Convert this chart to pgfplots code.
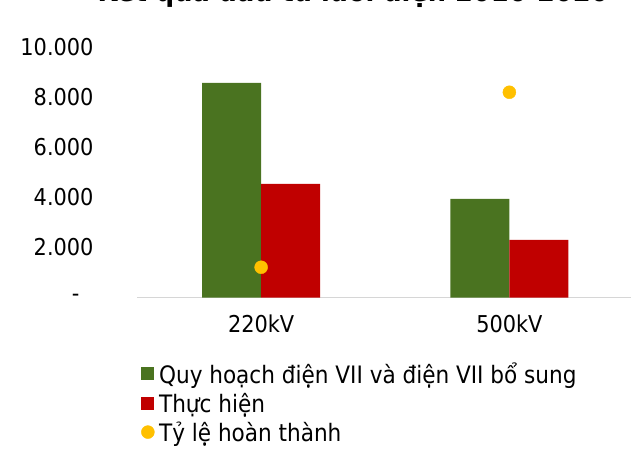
\documentclass[border=0pt]{standalone}
\usepackage{pgfplots}
\pgfplotsset{compat=1.18}
\usepackage{fontspec}
\setmainfont{DejaVu Sans Condensed}
\definecolor{cgreen}{HTML}{4A7320}
\definecolor{cred}{HTML}{C00000}
\definecolor{cyellow}{HTML}{FFC000}
\begin{document}
\begin{tikzpicture}
\begin{axis}[
  at={(137bp,151.5bp)}, anchor=south west,
  scale only axis, width=496.5bp, height=250bp,
  xmin=-0.5, xmax=1.5, ymin=0, ymax=10000,
  scaled y ticks=false,
  xtick={0,1}, xticklabels={220kV,500kV},
  ytick={0,2000,4000,6000,8000,10000},
  yticklabels={-\kern14bp,2.000,4.000,6.000,8.000,10.000},
  axis line style={draw=none}, tick style={draw=none},
  tick label style={font=\fontsize{23.2bp}{27bp}\selectfont},
  yticklabel style={xshift=-40bp},
  xticklabel style={yshift=-14bp},
  extra y ticks={0}, extra y tick labels={},
  extra y tick style={grid=major, major grid style={draw=black!16, line width=1.6bp}},
  clip=false,
  legend style={at={(0.002,-0.246)}, anchor=north west, draw=none, fill=none,
    font=\fontsize{24bp}{28bp}\selectfont, row sep=5bp,
    nodes={inner sep=1.5bp}},
  legend cell align=left,
]
\addplot[ybar, bar width=59bp, bar shift=-29.5bp, fill=cgreen, draw=none,
  legend image code/.code={\fill[cgreen] (0bp,-6.5bp) rectangle (13bp,6.5bp);}]
  coordinates {(0,8580) (1,3940)};
\addlegendentry{\hspace{3bp}Quy hoạch điện VII và điện VII bổ sung}
\addplot[ybar, bar width=59bp, bar shift=29.5bp, fill=cred, draw=none,
  legend image code/.code={\fill[cred] (0bp,-6.5bp) rectangle (13bp,6.5bp);}]
  coordinates {(0,4540) (1,2300)};
\addlegendentry{\hspace{3bp}Thực hiện}
\addplot[only marks, mark=*, mark size=6.5bp, color=cyellow,
  legend image code/.code={\fill[cyellow] (6.5bp,0bp) circle (6.5bp);}]
  coordinates {(0,1210) (1,8210)};
\addlegendentry{\hspace{3bp}Tỷ lệ hoàn thành}
\end{axis}
\node[anchor=base, font=\bfseries\fontsize{28.5bp}{32bp}\selectfont] at (353bp,447bp) {Kết quả đầu tư lưới điện 2016-2020};
\pgfresetboundingbox
\path[use as bounding box] (0,0) rectangle (631bp,449bp);
\end{tikzpicture}
\end{document}
